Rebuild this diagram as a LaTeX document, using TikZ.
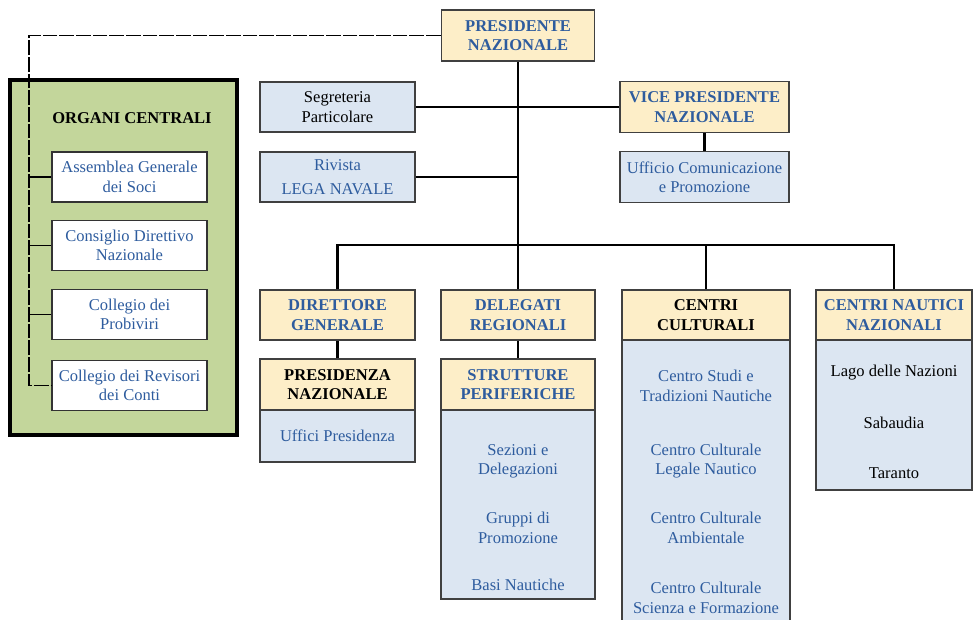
\documentclass[tikz,border=0pt]{standalone}
\usepackage{fontspec}
\setmainfont{Liberation Serif}
\definecolor{headCream}{RGB}{253,238,200}
\definecolor{bodyBlue}{RGB}{220,230,242}
\definecolor{organGreen}{RGB}{195,214,155}
\definecolor{textBlue}{RGB}{46,92,158}
\begin{document}
\begin{tikzpicture}
[x=0.75pt,y=-0.75pt,
  every node/.style={font=\fontsize{12.4}{14.5}\selectfont,align=center,inner sep=0pt},
  boxSize/.style 2 args={minimum width=#1*0.75pt,minimum height=#2*0.75pt},
  headDecorate/.style={rectangle,draw=black!75,line width=1.2pt,fill=headCream,%
    font=\fontsize{12.4}{14.5}\selectfont\bfseries},
  bodyDecorate/.style={rectangle,draw=black!75,line width=1.2pt,fill=bodyBlue},
  whiteDecorate/.style={rectangle,draw=black!80,line width=1.2pt,fill=white,text=textBlue},
  lineDecorate/.style={-,line width=2pt},
  dashDecorate/.style={-,line width=1pt,dash pattern=on 11pt off 1.5pt}]
\useasboundingbox (0,0) rectangle (975,620);
%% organi centrali
\node (organi) at (123.5,257.5) [rectangle,draw,line width=3.5pt,fill=organGreen,boxSize={227}{355}] {};
\node (organiTitle) at (132,118) [font=\fontsize{12.4}{14.5}\selectfont\bfseries] {ORGANI CENTRALI};
\foreach \nodename/\y/\label in {
  asm/177/{Assemblea Generale\\dei Soci}, cdn/245.5/{Consiglio Direttivo\\Nazionale},
  prob/314.5/{Collegio dei\\Probiviri}, rev/385.5/{Collegio dei Revisori\\dei Conti}}
{
  \node (\nodename) at (129.5,\y) [whiteDecorate,boxSize={155}{50}] {\label};
}
%% top level
\node (pres) at (518,35.5) [headDecorate,text=textBlue,boxSize={153}{51}] {PRESIDENTE\\NAZIONALE};
\node (segr) at (337.5,107) [bodyDecorate,boxSize={155}{50}] {Segreteria\\Particolare};
\node (riv) at (337.5,177) [bodyDecorate,text=textBlue,boxSize={155}{50}] {Rivista\\[4pt]LEGA NAVALE};
\node (vice) at (704.5,107) [headDecorate,text=textBlue,boxSize={169}{51}] {VICE PRESIDENTE\\NAZIONALE};
\node (uff) at (704.5,177) [bodyDecorate,text=textBlue,boxSize={169}{51}] {Ufficio Comunicazione\\e Promozione};
%% second level
\node (dir) at (337.5,315) [headDecorate,text=textBlue,boxSize={155}{50}] {DIRETTORE\\GENERALE};
\node (del) at (518,315) [headDecorate,text=textBlue,boxSize={154}{50}] {DELEGATI\\REGIONALI};
\node (preszBody) at (337.5,436) [bodyDecorate,boxSize={155}{52}] {};
\node (presz) at (337.5,384.5) [headDecorate,boxSize={155}{51}] {PRESIDENZA\\NAZIONALE};
\node (strutBody) at (518,504.5) [bodyDecorate,boxSize={154}{189}] {};
\node (strut) at (518,384.5) [headDecorate,text=textBlue,boxSize={154}{51}] {STRUTTURE\\PERIFERICHE};
\node (ccBody) at (706,490) [bodyDecorate,boxSize={168}{300}] {};
\node (cc) at (706,315) [headDecorate,boxSize={168}{50}] {CENTRI\\CULTURALI};
\node (cnBody) at (894,415) [bodyDecorate,boxSize={156}{150}] {};
\node (cn) at (894,315) [headDecorate,text=textBlue,boxSize={156}{50}] {CENTRI NAUTICI\\NAZIONALI};
%% contents of the columns
\node (uffPres) at (337.5,436) [text=textBlue] {Uffici Presidenza};
\foreach \nodename/\y/\label in {
  sez/461/{Sezioni e\\Delegazioni}, grp/528/{Gruppi di\\Promozione}, basi/585/{Basi Nautiche}}
{
  \node (\nodename) at (518,\y) [text=textBlue] {\label};
}
\foreach \nodename/\y/\label in {
  studi/386/{Centro Studi e\\Tradizioni Nautiche}, legale/461/{Centro Culturale\\Legale Nautico},
  amb/528/{Centro Culturale\\Ambientale}, scienza/598/{Centro Culturale\\Scienza e Formazione}}
{
  \node (\nodename) at (706,\y) [text=textBlue] {\label};
}
\foreach \nodename/\y/\label in {
  lago/373/{Lago delle Nazioni}, sab/423/{Sabaudia}, tar/473/{Taranto}}
{
  \node (\nodename) at (894,\y) {\label};
}
%% edges or lines
\coordinate (spine) at (29,0);
\coordinate (bus) at (518,245);
\draw[dashDecorate] (pres.west) -| (spine |- rev.west) -- (rev.west);
\foreach \nodename in {asm,cdn,prob}
  \draw[line width=1pt] (spine |- \nodename.west) -- (\nodename.west);
\draw[lineDecorate] (pres.south) -- (bus);
\draw[lineDecorate] (segr.east) -- (vice.west);
\draw[lineDecorate] (riv.east) -- (riv.east -| pres.south);
\draw[lineDecorate] (vice.south) -- (uff.north);
\draw[lineDecorate] (dir.north) |- (bus) -| (cn.north);
\draw[lineDecorate] (bus) -- (del.north);
\draw[lineDecorate] (cc.north) -- (cc.north |- bus);
\draw[lineDecorate] (dir.south) -- (presz.north);
\draw[lineDecorate] (del.south) -- (strut.north);
\end{tikzpicture}
\end{document}
